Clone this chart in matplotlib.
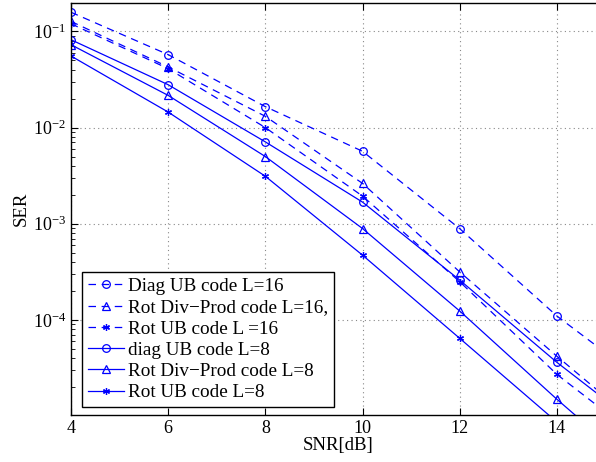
import matplotlib
matplotlib.use("Agg")
import matplotlib.pyplot as plt
from matplotlib.ticker import LogLocator, NullFormatter, FixedLocator

plt.rcParams['font.family'] = ['Liberation Serif', 'DejaVu Serif']
plt.rcParams['mathtext.fontset'] = 'stix'

snr = [4, 6, 8, 10, 12, 14, 16]

diag_ub_16 = [0.158, 0.0573, 0.0165, 0.00567, 8.9e-4, 1.1e-4, 1.9e-5]
rot_dp_16 = [0.127, 0.0427, 0.0131, 0.00263, 3.16e-4, 4.2e-5, 6.0e-6]
rot_ub_16 = [0.120, 0.0410, 0.0100, 0.00194, 2.5e-4, 2.72e-5, 4.5e-6]
diag_ub_8 = [0.0819, 0.0279, 0.0071, 0.00168, 2.6e-4, 3.63e-5, 6.0e-6]
rot_dp_8 = [0.0727, 0.0216, 0.0050, 8.93e-4, 1.24e-4, 1.5e-5, 2.0e-6]
rot_ub_8 = [0.0555, 0.0145, 0.00312, 4.72e-4, 6.45e-5, 8.7e-6, 1.2e-6]

labels = ["Diag UB code L=16", "Rot Div\u2212Prod code L=16,", "Rot UB code L =16",
          "diag UB code L=8", "Rot Div\u2212Prod code L=8", "Rot UB code L=8"]

xticks = [4, 6, 8, 10, 12, 14]

blue = (0, 0, 1)
fig = plt.figure(figsize=(5.96, 4.62), dpi=100)
ax = fig.add_axes([0.119, 0.1017, 0.897, 0.8918])

star = (6, 2, 0)
dash = (6, 4.5)
series = [
    (diag_ub_16, 'o', True),
    (rot_dp_16, '^', True),
    (rot_ub_16, star, True),
    (diag_ub_8, 'o', False),
    (rot_dp_8, '^', False),
    (rot_ub_8, star, False),
]
for (vals, mk, dashed), lab in zip(series, labels):
    kw = dict(color=blue, lw=0.9, marker=mk, markersize=5.5 if mk != star else 5,
              markerfacecolor='none', markeredgecolor=blue, markeredgewidth=0.9,
              label=lab, clip_on=True)
    if dashed:
        ax.plot(snr, vals, linestyle=(0, dash), **kw)
    else:
        ax.plot(snr, vals, linestyle='-', **kw)

ax.set_yscale('log')
ax.set_xlim(4, 15)
ax.set_ylim(1.03e-5, 0.197)
ax.xaxis.set_major_locator(FixedLocator(xticks))
ax.yaxis.set_major_locator(LogLocator(base=10, numticks=10))
ax.yaxis.set_minor_locator(LogLocator(base=10, subs=range(2, 10), numticks=20))
ax.yaxis.set_minor_formatter(NullFormatter())

ax.grid(True, which='major', linestyle=(0, (1, 3)), color='#888888', lw=0.8)
ax.tick_params(which='both', direction='in', top=True, right=False, labelsize=13)
ax.tick_params(which='major', length=5, width=0.8)
ax.tick_params(which='minor', length=3, width=0.6)
for s in ax.spines.values():
    s.set_linewidth(1.0)

ax.set_xlabel('SNR[dB]', fontsize=13.5, labelpad=0)
ax.set_ylabel('SER', fontsize=13.5, labelpad=2)

leg = ax.legend(loc='lower left', bbox_to_anchor=(0.0206, 0.0194), borderaxespad=0,
                fontsize=13.8, numpoints=1, handlelength=1.9, handletextpad=0.22,
                labelspacing=0.2, borderpad=0.3, fancybox=False, framealpha=1,
                edgecolor='black')
leg.get_frame().set_linewidth(1.0)

fig.savefig('out.png', dpi=100)
